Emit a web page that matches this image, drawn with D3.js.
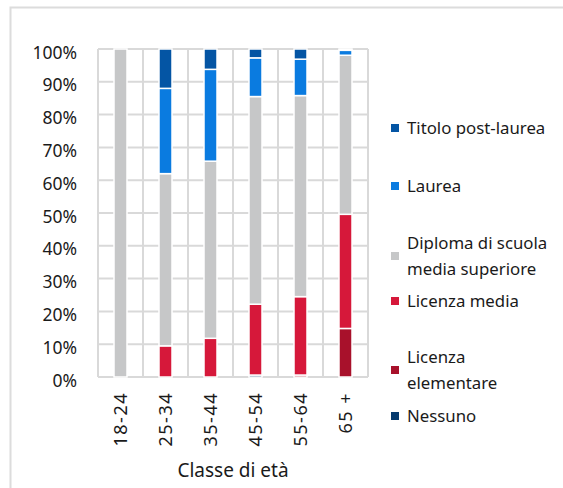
<!DOCTYPE html>
<html><head><meta charset="utf-8">
<script src="https://cdn.jsdelivr.net/npm/d3@7"></script>
<style>
html,body{margin:0;padding:0;background:#fff;}
svg{display:block;font-family:"Noto Sans",sans-serif;}
</style></head>
<body><svg id="c" width="563" height="488"></svg>
<script>
const categories = ["18-24","25-34","35-44","45-54","55-64","65 +"];
const seriesNames = ["Nessuno","Licenza elementare","Licenza media","Diploma di scuola media superiore","Laurea","Titolo post-laurea"];
const nessuno    = [0,   0,    0,    0.6, 0,    0];
const elementare = [0,   0,    0,    0,   0.6,  14.8];
const media      = [0,   9.5,  11.8, 21.6,23.9, 34.8];
const diploma    = [100, 52.5, 54.0, 63.3,61.3, 48.5];
const laurea     = [0,   26.0, 28.0, 11.8,11.1, 1.5];
const postLaurea = [0,   12.0, 6.2,  2.7, 3.1,  0.4];
const yTicks = [0,10,20,30,40,50,60,70,80,90,100];
const colors = ["#063a6e","#a8112b","#d6183a","#c6c7c8","#0a7be0","#0455a4"];
const legendLabels = [["Nessuno"],["Licenza","elementare"],["Licenza media"],["Diploma di scuola","media superiore"],["Laurea"],["Titolo post-laurea"]];

const svg = d3.select("#c");
svg.append("rect").attr("x",10.5).attr("y",7.5).attr("width",560).attr("height",490)
  .attr("fill","none").attr("stroke","#dcdcdc").attr("stroke-width",2);

const L=98, R=368, T=49, B=377;
const x = d3.scaleBand().domain(categories).range([L,R]).paddingInner(0).paddingOuter(0);
const y = d3.scaleLinear().domain([0,100]).range([B,T]);

const grid = svg.append("g").attr("stroke","#d9d9d9").attr("stroke-width",2);
yTicks.forEach(t=>grid.append("line").attr("x1",L).attr("x2",R).attr("y1",y(t)).attr("y2",y(t)));
categories.forEach(c=>grid.append("line").attr("x1",x(c)).attr("x2",x(c)).attr("y1",T).attr("y2",B));
grid.append("line").attr("x1",R).attr("x2",R).attr("y1",T).attr("y2",B);

const rows = categories.map((c,i)=>({cat:c, v:[nessuno[i],elementare[i],media[i],diploma[i],laurea[i],postLaurea[i]]}));
const keys = [0,1,2,3,4,5];
const stacked = d3.stack().keys(keys).value((d,k)=>d.v[k])(rows);
const bw = 13;
svg.append("g").selectAll("g").data(stacked).join("g").attr("fill",(d,i)=>colors[i])
  .selectAll("rect").data(d=>d.filter(p=>p[1]-p[0]>0)).join("rect")
  .attr("x",d=>x(d.data.cat)+x.bandwidth()/2-bw/2)
  .attr("width",bw)
  .attr("y",d=>y(d[1]))
  .attr("height",d=>Math.max(0.8,y(d[0])-y(d[1])))
  .attr("stroke","#fff").attr("stroke-width",1.5);

const yAxis = d3.axisLeft(y).tickValues(yTicks).tickFormat(d=>d+"%").tickSize(0).tickPadding(0);
const ya = svg.append("g").attr("transform",`translate(77,0)`).call(yAxis);
ya.select(".domain").remove();
ya.selectAll("text").attr("font-size",17.5).attr("fill","#1a1a1a").attr("font-family","Noto Sans").attr("dy","0.35em").attr("y",3);

const xAxis = d3.axisBottom(x).tickSize(0).tickPadding(0);
const xa = svg.append("g").attr("transform",`translate(0,${B})`).call(xAxis);
xa.select(".domain").remove();
xa.selectAll("text").attr("font-size",18).attr("font-family","Noto Sans").attr("fill","#1a1a1a")
  .attr("transform","rotate(-90)").attr("text-anchor","end").attr("x",-15).attr("y",0).attr("dy","0.35em")
  .attr("letter-spacing",1.5);

svg.append("text").attr("x",233).attr("y",477).attr("text-anchor","middle")
  .attr("font-size",19).attr("fill","#1a1a1a").text("Classe di età");

const legY = [416,370,301,256,186,128];
const lg = svg.append("g");
legendLabels.forEach((lab,i)=>{
  const cy = legY[i];
  const g = lg.append("g");
  g.append("rect").attr("x",391).attr("y",cy-4).attr("width",8).attr("height",8).attr("fill",colors[i]);
  const t = g.append("text").attr("x",407).attr("font-size",16.8).attr("fill","#1a1a1a");
  const n = lab.length;
  lab.forEach((s,j)=>{
    t.append("tspan").attr("x",407).attr("y",cy - (n-1)*12.75 + j*25.5).attr("dy","0.35em").text(s);
  });
});
</script></body></html>
